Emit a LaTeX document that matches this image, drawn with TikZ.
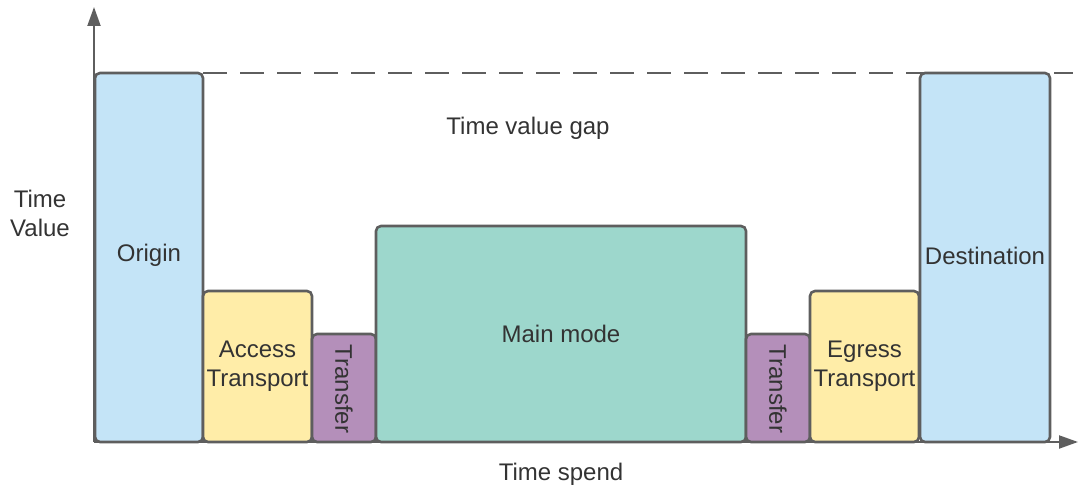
\documentclass[tikz,border=0pt]{standalone}
\usepackage{fontspec}
\setmainfont{Liberation Sans}
\usetikzlibrary{arrows.meta}
\definecolor{edge}{HTML}{5E5E5E}
\definecolor{txt}{HTML}{333333}
\definecolor{skyfill}{HTML}{C4E4F7}
\definecolor{sandfill}{HTML}{FFEDA8}
\definecolor{plumfill}{HTML}{B48FBA}
\definecolor{mintfill}{HTML}{9DD7CC}
\tikzset{
  bar/.style={draw=edge, line width=2.6pt, rounded corners=5pt},
  lbl/.style={text=txt, font=\fontsize{24}{29}\selectfont, align=center, inner sep=0pt},
  axis/.style={draw=edge, line width=2pt, -{Triangle[length=19pt,width=13pt]}},
  gap/.style={draw=edge, line width=1.8pt, dash pattern=on 24pt off 13pt}
}
\begin{document}
\begin{tikzpicture}[x=1pt,y=-1pt]
\useasboundingbox (0,0) rectangle (1078,486);
% axes
\coordinate (o) at (94,442);
\coordinate (ytip) at (94,7);
\coordinate (xtip) at (1078,442);
\draw[axis] (o) -- (ytip);
\draw[axis] (o) -- (xtip);
% reference level of the two end points
\coordinate (gapL) at (203,73);
\coordinate (gapR) at (1073,73);
\draw[gap] (gapL) -- (gapR);
% journey stages
\draw[bar, fill=skyfill] (95,73) rectangle (203,442);
\draw[bar, fill=sandfill] (203,291) rectangle (312,442);
\draw[bar, fill=plumfill] (312,334) rectangle (376,442);
\draw[bar, fill=mintfill] (376,226) rectangle (746,442);
\draw[bar, fill=plumfill] (746,334) rectangle (810,442);
\draw[bar, fill=sandfill] (810,291) rectangle (919,442);
\draw[bar, fill=skyfill] (920,73) rectangle (1050,442);
% labels
\node[lbl] (origin) at (149,255) {Origin};
\node[lbl] (access) at (257.5,366.5) {Access\\Transport};
\node[lbl, rotate=-90] (tr1) at (344,389) {Transfer};
\node[lbl] (main) at (561,334) {Main mode};
\node[lbl, rotate=-90] (tr2) at (778,389) {Transfer};
\node[lbl] (egress) at (864.5,366.5) {Egress\\Transport};
\node[lbl] (dest) at (985,256) {Destination};
\node[lbl] (gaplbl) at (528,128) {Time value gap};
\node[lbl] (ylbl) at (40,213) {Time\\Value};
\node[lbl] (xlbl) at (561,474) {Time spend};
\end{tikzpicture}
\end{document}
